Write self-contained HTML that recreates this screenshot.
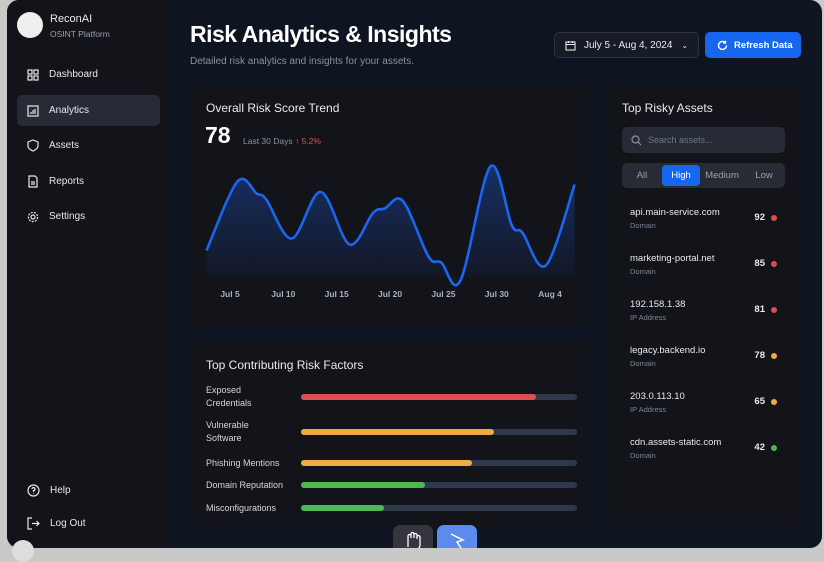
<!DOCTYPE html>
<html><head><meta charset="utf-8">
<style>
*{box-sizing:border-box;margin:0;padding:0}
body{width:824px;height:551px;overflow:hidden;background:#c9c9c9;font-family:"Liberation Sans",sans-serif;position:relative}
#app{position:absolute;left:7px;top:0;width:815px;height:548px;background:#0e1420;border-radius:12px;overflow:hidden}
#side{position:absolute;left:0;top:0;width:163px;height:548px;background:#131419}
.abs{position:absolute}
.nav{position:absolute;left:10px;width:143px;height:31px;border-radius:5px;color:#e6e8ec;font-size:10px;display:flex;align-items:center;padding-left:10px}
.nav svg{margin-right:10px}
.card{position:absolute;background:#12141a;border-radius:8px}
.t{color:#e8eaee}
.muted{color:#7d8594}
</style></head><body>
<div id="app">
 <div id="side">
  <div class="abs" style="left:10px;top:12px;width:26px;height:26px;border-radius:50%;background:#efefef"></div>
  <div class="abs t" style="left:43px;top:13px;font-size:11px">ReconAI</div>
  <div class="abs muted" style="left:43px;top:29px;font-size:8.5px;color:#9aa0aa">OSINT Platform</div>
  <div class="nav" style="top:59px"><svg width="12" height="12" viewBox="0 0 12 12" fill="none" stroke="#e6e8ec" stroke-width="1.2"><rect x="1" y="1" width="4" height="4"/><rect x="7" y="1" width="4" height="4"/><rect x="1" y="7" width="4" height="4"/><rect x="7" y="7" width="4" height="4"/></svg>Dashboard</div>
  <div class="nav" style="top:95px;background:#262b36"><svg width="12" height="12" viewBox="0 0 12 12" fill="none" stroke="#e6e8ec" stroke-width="1.2"><rect x="1" y="1" width="10" height="10"/><path d="M4 9V7M6 9V5M8 9V4"/></svg>Analytics</div>
  <div class="nav" style="top:130px"><svg width="12" height="13" viewBox="0 0 12 13" fill="none" stroke="#e6e8ec" stroke-width="1.2"><path d="M6 1L11 3V7C11 10 6 12 6 12C6 12 1 10 1 7V3Z"/></svg>Assets</div>
  <div class="nav" style="top:166px"><svg width="12" height="13" viewBox="0 0 12 13" fill="none" stroke="#e6e8ec" stroke-width="1.2"><path d="M2 1H8L10 3V12H2Z"/><path d="M4 7H8M4 9H8"/></svg>Reports</div>
  <div class="nav" style="top:201px"><svg width="12" height="12" viewBox="0 0 12 12" fill="none" stroke="#e6e8ec" stroke-width="1.2"><circle cx="6" cy="6" r="2"/><circle cx="6" cy="6" r="4.6" stroke-dasharray="2 1.2"/></svg>Settings</div>
  <div class="nav" style="top:475px"><svg width="13" height="13" viewBox="0 0 13 13" fill="none" stroke="#e6e8ec" stroke-width="1.2"><circle cx="6.5" cy="6.5" r="5.5"/><path d="M5 5a1.5 1.5 0 1 1 1.5 1.6V8M6.5 9.5v.5"/></svg>Help</div>
  <div class="nav" style="top:508px"><svg width="13" height="13" viewBox="0 0 13 13" fill="none" stroke="#e6e8ec" stroke-width="1.2"><path d="M5 1H1V12H5M5 6.5H12M9.5 4L12 6.5L9.5 9"/></svg>Log Out</div>
 </div>
 <div class="abs" style="left:183px;top:21px;font-size:23px;font-weight:bold;color:#fff;letter-spacing:-0.5px">Risk Analytics &amp; Insights</div>
 <div class="abs muted" style="left:183px;top:56px;font-size:10px;color:#8a92a0">Detailed risk analytics and insights for your assets.</div>
 <div class="abs t" style="left:547px;top:32px;width:145px;height:26px;border:1px solid #2c3342;background:#161b26;border-radius:5px;font-size:10px;display:flex;align-items:center;padding-left:10px">
  <svg width="11" height="11" viewBox="0 0 11 11" fill="none" stroke="#e6e8ec" stroke-width="1.1" style="margin-right:8px"><rect x="1" y="2" width="9" height="8"/><path d="M1 4.5H10M3.5 1V3M7.5 1V3"/></svg>July 5 - Aug 4, 2024 <span style="margin-left:9px;font-size:8px">⌄</span></div>
 <div class="abs" style="left:698px;top:32px;width:96px;height:26px;background:#1766f0;border-radius:5px;color:#fff;font-size:9.5px;font-weight:bold;display:flex;align-items:center;padding-left:12px">
  <svg width="11" height="11" viewBox="0 0 11 11" fill="none" stroke="#fff" stroke-width="1.4" style="margin-right:6px"><path d="M9.5 5.5A4 4 0 1 1 8 2.3M8.5 0.8V3H6.3"/></svg>Refresh Data</div>

 <div class="card" style="left:183px;top:85px;width:400px;height:240px">
  <div class="abs t" style="left:16px;top:16px;font-size:12px">Overall Risk Score Trend</div>
  <div class="abs" style="left:15px;top:37px;font-size:23px;font-weight:bold;color:#fff">78</div>
  <div class="abs" style="left:53px;top:51px;font-size:8.5px;color:#8a92a0">Last 30 Days <span style="color:#e0524f">↑ 5.2%</span></div>
 </div>
 <svg class="abs" id="chart" style="left:0;top:0" width="815" height="548">
  <defs><linearGradient id="g" x1="0" y1="0" x2="0" y2="1"><stop offset="0" stop-color="#1a3a80" stop-opacity="0.75"/><stop offset="1" stop-color="#12182a" stop-opacity="0.6"/></linearGradient></defs>
 </svg>

 <div class="card" style="left:183px;top:341px;width:400px;height:186px">
  <div class="abs t" style="left:16px;top:17px;font-size:12px">Top Contributing Risk Factors</div>
  <div id="factors"></div>
 </div>

 <div class="card" style="left:600px;top:85px;width:194px;height:442px">
  <div class="abs t" style="left:15px;top:16px;font-size:12px">Top Risky Assets</div>
  <div class="abs" style="left:15px;top:42px;width:163px;height:26px;background:#262b36;border-radius:5px;font-size:9px;color:#6f7785;display:flex;align-items:center;padding-left:9px">
   <svg width="11" height="11" viewBox="0 0 11 11" fill="none" stroke="#8a92a0" stroke-width="1.2" style="margin-right:6px"><circle cx="4.5" cy="4.5" r="3.5"/><path d="M7 7L10 10"/></svg>Search assets...</div>
  <div class="abs" style="left:15px;top:78px;width:163px;height:25px;background:#262b36;border-radius:5px;font-size:9.5px;color:#9aa0aa">
   <div class="abs" style="left:0;top:0;width:40px;height:25px;line-height:25px;text-align:center">All</div>
   <div class="abs" style="left:40px;top:2px;width:38px;height:21px;line-height:21px;text-align:center;background:#1766f0;color:#fff;border-radius:4px">High</div>
   <div class="abs" style="left:78px;top:0;width:44px;height:25px;line-height:25px;text-align:center">Medium</div>
   <div class="abs" style="left:122px;top:0;width:40px;height:25px;line-height:25px;text-align:center">Low</div>
  </div>
  <div id="assets"></div>
 </div>

 <div class="abs" style="left:386px;top:525px;width:40px;height:30px;background:#34363d;border-radius:7px"><svg width="40" height="30"><path d="M15 22V14M15 14V11a1.5 1.5 0 0 1 3 0V13M18 13V9a1.5 1.5 0 0 1 3 0V13M21 13V10a1.5 1.5 0 0 1 3 0V14M24 14V12a1.5 1.5 0 0 1 3 0V20a5 5 0 0 1-5 5H20" fill="none" stroke="#fff" stroke-width="1.3"/></svg></div>
 <div class="abs" style="left:430px;top:525px;width:40px;height:30px;background:#5a8bed;border-radius:7px"><svg width="40" height="30"><path d="M14 9L26 15L20 17L24 23" fill="none" stroke="#fff" stroke-width="1.5"/></svg></div>
</div>
<div class="abs" style="left:12px;top:540px;width:22px;height:22px;border-radius:50%;background:#ddd"></div>
<script>
// chart data: day offsets in July (Aug 4 = 35) and risk values
const trendDays=[2.8,5.7,7.5,8.4,10.8,13.5,16.2,18.4,19.5,21.2,23.6,24.8,26.6,29.4,31.4,32.4,34.6,37.3];
const trendValues=[33,79,71,67,41,72,37,58,61,66,29,25,13,89,50,45,23,77];
const tickDays=[5,10,15,20,25,30,35];
const tickLabels=["Jul 5","Jul 10","Jul 15","Jul 20","Jul 25","Jul 30","Aug 4"];
const factorNames=["Exposed|Credentials","Vulnerable|Software","Phishing Mentions","Domain Reputation","Misconfigurations"];
const factorValues=[85,70,62,45,30];
const factorColors=["#dc4f4d","#f0aa44","#f0aa44","#4fb654","#4fb654"];
const assetNames=["api.main-service.com","marketing-portal.net","192.158.1.38","legacy.backend.io","203.0.113.10","cdn.assets-static.com"];
const assetTypes=["Domain","Domain","IP Address","Domain","IP Address","Domain"];
const assetScores=[92,85,81,78,65,42];

const NS="http://www.w3.org/2000/svg";
const svg=document.getElementById('chart');
const x=d=>223+(d-5)*10.67;
const y=v=>300-v*1.5;
const pts=trendDays.map((d,i)=>[x(d),y(trendValues[i])]);
let p="M"+pts[0][0]+","+pts[0][1];
for(let i=0;i<pts.length-1;i++){
 const p0=pts[Math.max(0,i-1)],p1=pts[i],p2=pts[i+1],p3=pts[Math.min(pts.length-1,i+2)];
 const c1=[p1[0]+(p2[0]-p0[0])/6,p1[1]+(p2[1]-p0[1])/6],c2=[p2[0]-(p3[0]-p1[0])/6,p2[1]-(p3[1]-p1[1])/6];
 p+=` C${c1[0]},${c1[1]} ${c2[0]},${c2[1]} ${p2[0]},${p2[1]}`;
}
const area=document.createElementNS(NS,'path');
area.setAttribute('d',p+` L${pts[pts.length-1][0]},277 L${pts[0][0]},277 Z`);
area.setAttribute('fill','url(#g)');


svg.appendChild(area);
const line=document.createElementNS(NS,'path');
line.setAttribute('d',p);line.setAttribute('fill','none');line.setAttribute('stroke','#1a66f0');line.setAttribute('stroke-width','2.6');


svg.appendChild(line);
tickDays.forEach((d,i)=>{
 const t=document.createElementNS(NS,'text');
 t.setAttribute('x',x(d));t.setAttribute('y',297);t.setAttribute('text-anchor','middle');
 t.setAttribute('fill','#aab0ba');t.setAttribute('font-size','8.5');t.setAttribute('font-weight','bold');t.setAttribute('font-family','Liberation Sans, sans-serif');
 t.textContent=tickLabels[i];
 
 
 svg.appendChild(t);
});
const fc=document.getElementById('factors');
const rowY=[55,90,121,143,166];
factorNames.forEach((n,i)=>{
 const lab=document.createElement('div');
 lab.className='abs';
 lab.style.cssText=`left:16px;top:${rowY[i]-(n.includes('|')?12:5)}px;font-size:9px;line-height:13px;color:#d4d7dd`;
 lab.innerHTML=n.replace('|','<br>');
 
 
 fc.appendChild(lab);
 const tr=document.createElement('div');
 tr.className='abs';
 tr.style.cssText=`left:111px;top:${rowY[i]-2}px;width:276px;height:6px;border-radius:3px;background:#2e3a4c`;
 
 
 const b=document.createElement('div');
 b.style.cssText=`width:${factorValues[i]}%;height:6px;border-radius:3px;background:${factorColors[i]}`;
 
 
 tr.appendChild(b);fc.appendChild(tr);
});
const ac=document.getElementById('assets');
assetNames.forEach((n,i)=>{
 const top=122+i*46;
 const col=assetScores[i]>=80?'#dc4f4d':assetScores[i]>=50?'#f0aa44':'#4fb654';
 const r=document.createElement('div');
 r.className='abs';r.style.cssText=`left:23px;top:${top}px;width:160px;height:30px`;
 r.innerHTML=`<div class="abs" style="left:0;top:0;font-size:9.5px;color:#e8eaee">${n}</div><div class="abs" style="left:0;top:14px;font-size:7.5px;color:#7d8594">${assetTypes[i]}</div><div class="abs" style="right:25px;top:5px;font-size:9.5px;font-weight:bold;color:#e8eaee">${assetScores[i]}</div><div class="abs" style="right:13px;top:8px;width:6px;height:6px;border-radius:50%;background:${col}"></div>`;
 
 
 ac.appendChild(r);
});
</script>
</body></html>
